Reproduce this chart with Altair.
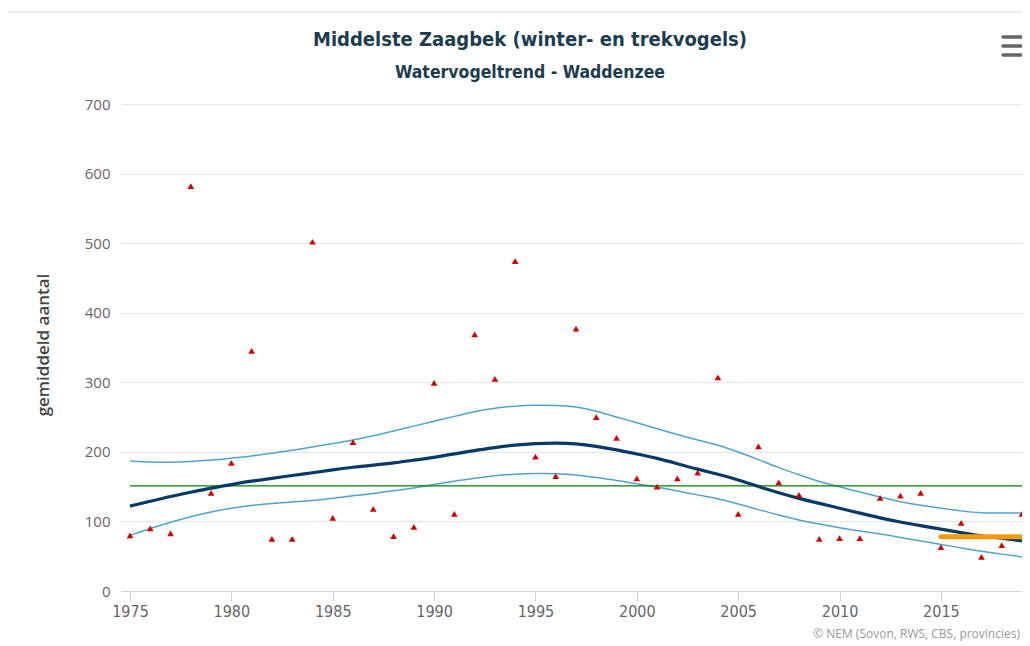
import altair as alt
import pandas as pd

years = list(range(1975, 2020))
counts = [80, 90, 83, 582, 141, 184, 345, 75, 75, 502, 105, 214, 118, 79, 92,
          299, 111, 369, 305, 474, 193, 165, 377, 250, 220, 162, 150, 162, 170, 307,
          111, 208, 156, 138, 75, 76, 76, 134, 137, 141, 63, 98, 49, 66, 111]
trend = [122, 129, 136, 142, 148, 153, 158, 162, 166, 170, 174, 178, 181, 184, 188,
         192, 197, 202, 206, 210, 212, 213, 212, 208, 203, 197, 191, 183, 175, 168,
         160, 150, 141, 133, 126, 119, 112, 105, 99, 94, 89, 84, 79, 76, 72]
upper = [187, 185, 185, 186, 188, 191, 194, 198, 202, 207, 212, 217, 223, 230, 237,
         244, 251, 258, 263, 266, 267, 267, 265, 259, 250, 242, 233, 225, 217, 210,
         200, 189, 177, 167, 157, 150, 142, 135, 128, 123, 119, 115, 112, 112, 112]
lower = [80, 90, 99, 107, 114, 119, 123, 126, 128, 130, 133, 137, 140, 144, 148,
         153, 158, 162, 166, 168, 169, 169, 167, 163, 159, 154, 149, 144, 138, 133,
         125, 117, 109, 102, 96, 91, 86, 82, 77, 72, 67, 62, 57, 53, 49]
mean_years = [1975, 2019]
mean_values = [151, 151]
recent_years = [2015, 2019]
recent_values = [78, 78]
x_ticks = [1975, 1980, 1985, 1990, 1995, 2000, 2005, 2010, 2015]
y_ticks = [0, 100, 200, 300, 400, 500, 600, 700]

title_text = "Middelste Zaagbek (winter- en trekvogels)"
subtitle_text = "Watervogeltrend - Waddenzee"
y_title = "gemiddeld aantal"
credits_text = "© NEM (Sovon, RWS, CBS, provincies)"

W, H = 901, 487
FONT = "Open Sans"
COND = "'Liberation Sans Narrow', 'DejaVu Sans Condensed', 'Open Sans', sans-serif"

df = pd.DataFrame({"jaar": years, "aantal": counts, "trend": trend,
                   "upper": upper, "lower": lower})
df_mean = pd.DataFrame({"jaar": mean_years, "aantal": mean_values})
df_recent = pd.DataFrame({"jaar": recent_years, "aantal": recent_values})

xscale = alt.Scale(domain=[1974.556, 2019], nice=False, zero=False)
yscale = alt.Scale(domain=[0, 700], nice=False)

xaxis = alt.Axis(values=x_ticks, format="d", title=None, grid=False,
                 domainColor="#ccd6eb", tickColor="#ccd6eb", tickSize=10,
                 labelFontSize=16, labelColor="#666666", labelFont=COND,
                 labelPadding=2, labelFlush=False)
yaxis = alt.Axis(values=y_ticks, title=None, grid=True, gridColor="#e6e6e6",
                 domain=False, ticks=False, labelFontSize=15,
                 labelColor="#666666", labelFont=FONT, labelPadding=11)


def X():
    return alt.X("jaar:Q", scale=xscale, axis=xaxis)


def Y(field):
    return alt.Y(f"{field}:Q", scale=yscale, axis=yaxis)


upper_line = alt.Chart(df).mark_line(color="#4fa3cf", strokeWidth=1.5,
                                     interpolate="basis").encode(x=X(), y=Y("upper"))
lower_line = alt.Chart(df).mark_line(color="#4fa3cf", strokeWidth=1.5,
                                     interpolate="basis").encode(x=X(), y=Y("lower"))
mean_line = alt.Chart(df_mean).mark_line(color="#008000", strokeWidth=1.3).encode(
    x=X(), y=Y("aantal"))
trend_line = alt.Chart(df).mark_line(color="#083a66", strokeWidth=3.2,
                                     interpolate="basis").encode(x=X(), y=Y("trend"))
recent_line = alt.Chart(df_recent).mark_line(color="#f59a0c", strokeWidth=5,
                                             strokeCap="round").encode(
    x=X(), y=Y("aantal"))
points = alt.Chart(df).mark_point(shape="triangle-up", filled=True,
                                  color="#d40000", size=44, opacity=1).encode(
    x=X(), y=Y("aantal"))

txt = pd.DataFrame({"t": [title_text]})
title_mark = alt.Chart(txt).mark_text(
    text=title_text, font=COND, fontSize=20, fontWeight="bold", color="#1b3d4e",
    align="center", baseline="middle").encode(x=alt.value(409), y=alt.value(-64))
subtitle_mark = alt.Chart(txt).mark_text(
    text=subtitle_text, font=COND, fontSize=17.5, fontWeight=600, color="#1b3d4e",
    align="center", baseline="middle").encode(x=alt.value(409), y=alt.value(-31))
ytitle_mark = alt.Chart(txt).mark_text(
    text=y_title, font=FONT, fontSize=17, fontWeight=600, color="#444444",
    align="center", baseline="middle", angle=270).encode(
    x=alt.value(-77), y=alt.value(241))
credits_mark = alt.Chart(txt).mark_text(
    text=credits_text, font=FONT, fontSize=12, color="#999999",
    align="right", baseline="middle").encode(x=alt.value(W - 2), y=alt.value(530))

border_top = alt.Chart(txt).mark_rule(color="#e6e6e6", strokeWidth=1.5).encode(
    x=alt.value(-113), x2=alt.value(W), y=alt.value(-92))
menu_df = pd.DataFrame({"bar": [0, 1, 2], "yy": [-67, -58, -49]})
menu = alt.Chart(menu_df).mark_rule(color="#666666", strokeWidth=3.5,
                                    strokeCap="round").encode(
    x=alt.value(882), x2=alt.value(900), y=alt.Y("yy:Q", scale=None))

chart = alt.layer(
    upper_line, lower_line, mean_line, trend_line, recent_line,
    points, title_mark, subtitle_mark, ytitle_mark, credits_mark, border_top, menu
).properties(
    width=W, height=H,
    background="white",
    autosize=alt.AutoSizeParams(type="none"),
    padding={"left": 113, "top": 96, "right": 0, "bottom": 54},
).configure_view(stroke="transparent", strokeWidth=0)

chart.save("out.html", embed_options={"renderer": "svg", "actions": False})
